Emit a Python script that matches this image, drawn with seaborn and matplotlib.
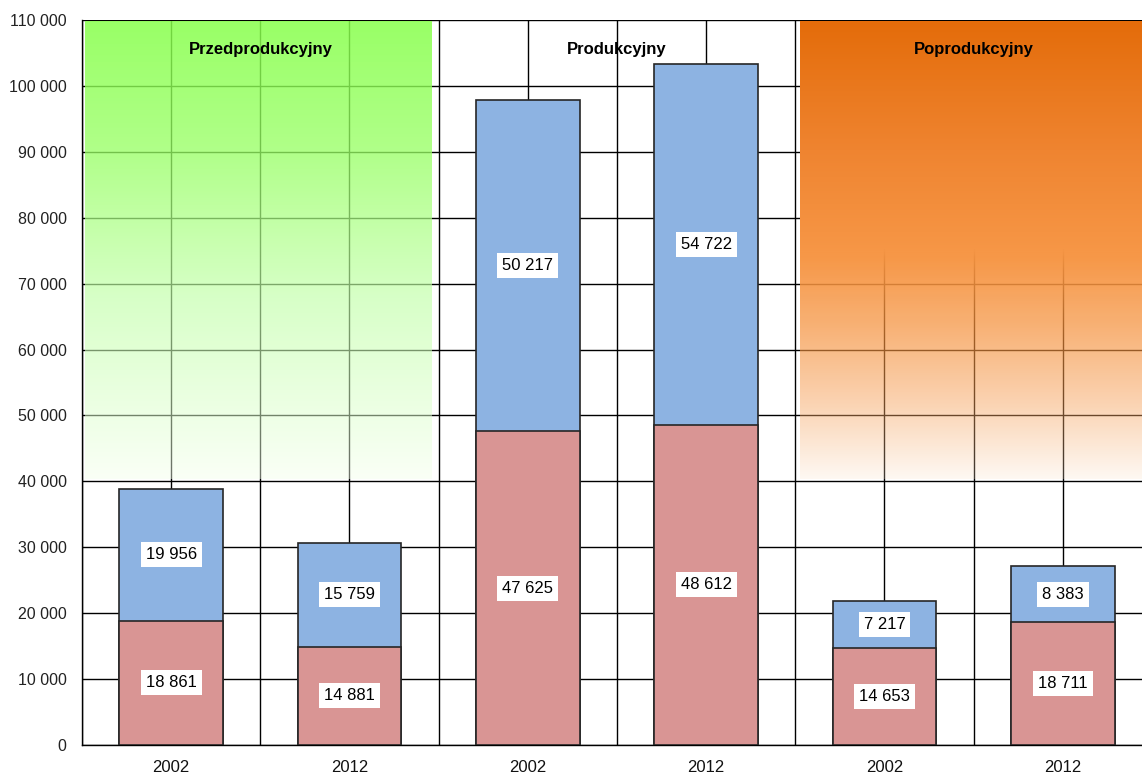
import numpy as np
import pandas as pd
import matplotlib
matplotlib.use("Agg")
import matplotlib.pyplot as plt
import matplotlib.colors as mcolors
import seaborn as sns

# Data
groups = ["Przedprodukcyjny", "Produkcyjny", "Poprodukcyjny"]
years = ["2002", "2012", "2002", "2012", "2002", "2012"]
bottom_vals = [18861, 14881, 47625, 48612, 14653, 18711]
top_vals = [19956, 15759, 50217, 54722, 7217, 8383]
y_ticks = list(range(0, 110001, 10000))

RED = "#D99594"
BLUE = "#8DB3E2"
EDGE = "#262626"
FONT = ["Liberation Sans", "DejaVu Sans"]

sns.set_style("white")
plt.rcParams["font.family"] = FONT

keys = [f"{g}_{y}" for g in groups for y in ("2002", "2012")]
df = pd.DataFrame({
    "key": keys,
    "bottom": bottom_vals,
    "total": [b + t for b, t in zip(bottom_vals, top_vals)],
})

fig = plt.figure(figsize=(11.42, 7.76), dpi=100)
# six slots of ~178 px; the last one runs a little past the right edge
ax = fig.add_axes([82 / 1142, 31 / 776, 1070 / 1142, (745 - 20) / 776])

# stacked bars: full height in blue, lower part in red on top
sns.barplot(data=df, x="key", y="total", order=keys, color=BLUE, saturation=1,
            width=0.58, edgecolor=EDGE, linewidth=1.2, errorbar=None, ax=ax, zorder=3)
sns.barplot(data=df, x="key", y="bottom", order=keys, color=RED, saturation=1,
            width=0.58, edgecolor=EDGE, linewidth=1.2, errorbar=None, ax=ax, zorder=3)


def gradient_panel(stops, alpha_stops, x0, x1, y0, y1):
    n = 300
    t = np.linspace(0, 1, n)
    st = [s[0] for s in stops]
    cols = np.array([mcolors.to_rgb(s[1]) for s in stops])
    alpha = np.interp(t, [a[0] for a in alpha_stops], [a[1] for a in alpha_stops])
    img = np.zeros((n, 1, 4))
    for c in range(3):
        seen = np.interp(t, st, cols[:, c])
        # colour that gives the wanted look once blended over white
        img[:, 0, c] = np.clip(1 - (1 - seen) / alpha, 0, 1)
    img[:, 0, 3] = alpha
    ax.imshow(img, extent=(x0, x1, y0, y1), aspect="auto", origin="upper",
              zorder=1, interpolation="bilinear")


gradient_panel([(0, "#99FF66"), (0.28, "#B0FF88"), (0.61, "#D8FFC8"), (1, "#FAFFF6")],
               [(0, 0.85), (0.5, 0.7), (1, 0.45)],
               -0.483, 1.462, 40300, 109700)
gradient_panel([(0, "#E46C0A"), (0.28, "#EF8430"), (0.52, "#F79848"), (0.67, "#F8B276"),
                (0.83, "#FBD2B0"), (1, "#FEF8F2")],
               [(0, 1.0), (0.5, 1.0), (0.7, 0.65), (1, 0.25)],
               3.525, 5.6, 40300, 109700)
ax.set_xlim(-0.5, 5.5)
ax.set_ylim(0, 110000)

# value labels
for i, (b, t) in enumerate(zip(bottom_vals, top_vals)):
    for val, yc in ((b, b / 2), (t, b + t / 2)):
        ax.text(i, yc, f"{val:,}".replace(",", " "), ha="center", va="center",
                fontsize=12, color="black", zorder=5,
                bbox=dict(boxstyle="square,pad=0.3", facecolor="white", edgecolor="none"))

# group titles
for gi, g in enumerate(groups):
    ax.text(2 * gi + 0.5, 105500, g, ha="center", va="center", fontsize=12,
            fontweight="bold", color="black", zorder=5)

# axes, ticks and grid
ax.set_xticks(np.arange(-0.5, 6, 1))
ax.set_xticklabels([])
ax.set_xticks(np.arange(6), minor=True)
ax.set_xticklabels(years, minor=True)
ax.set_yticks(y_ticks)
ax.set_yticklabels([f"{v:,}".replace(",", " ") for v in y_ticks])
ax.set_xlabel("")
ax.set_ylabel("")

ax.tick_params(axis="x", which="major", length=6, width=1, color="black", direction="out")
ax.tick_params(axis="x", which="minor", length=0, pad=11, labelsize=12, labelcolor="#111111")
ax.tick_params(axis="y", length=6, width=1, color="black", direction="out",
               labelsize=11.5, labelcolor="#222222", pad=5)

ax.grid(True, which="both", axis="x", color="black", linewidth=1.0, zorder=0)
ax.grid(True, which="major", axis="y", color="black", linewidth=1.0, zorder=0)
ax.set_axisbelow(True)

for side in ("left", "bottom"):
    ax.spines[side].set_color("black")
    ax.spines[side].set_linewidth(1.0)
ax.spines["right"].set_visible(False)
ax.spines["top"].set_visible(False)

fig.savefig("out.png", dpi=100)
